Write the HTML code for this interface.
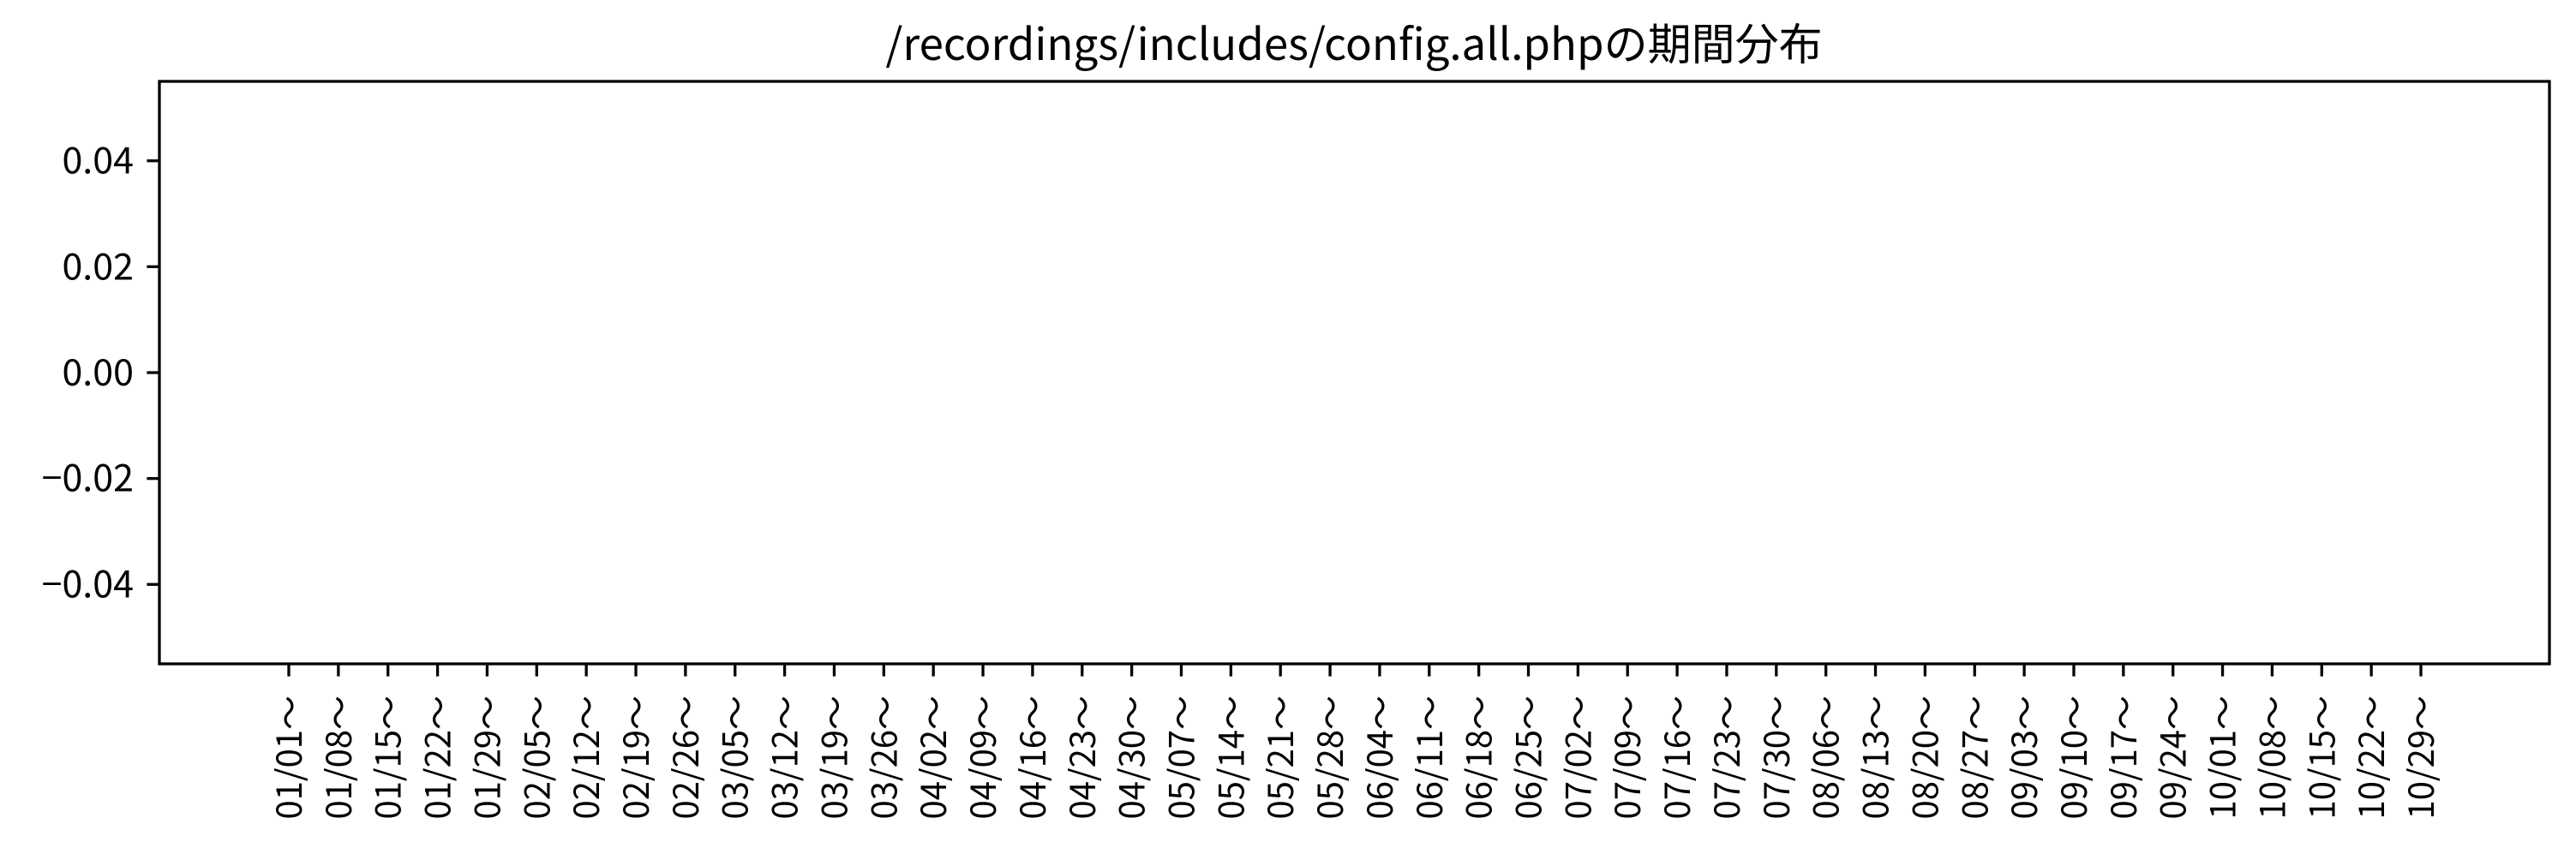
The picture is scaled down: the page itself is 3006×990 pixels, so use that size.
<!DOCTYPE html>
<html><head><meta charset="utf-8"><style>
html,body{margin:0;padding:0;background:#fff}
svg{display:block}
text{font-family:"Noto Sans CJK JP","Liberation Sans",sans-serif;fill:#000}
</style></head><body>
<svg id="chart" width="3006" height="990" viewBox="0 0 3006 990" xmlns="http://www.w3.org/2000/svg">
<rect x="0" y="0" width="3006" height="990" fill="#fff"/>
<text x="1580" y="70" text-anchor="middle" font-size="51">/recordings/includes/config.all.phpの期間分布</text>
<g id="yticks"></g>
<g id="xticks"></g>
<g id="bars"></g>
<rect x="186" y="95" width="2789" height="680" fill="none" stroke="#000" stroke-width="3.3"/>
</svg>
<script>
const categories = ["01/01～","01/08～","01/15～","01/22～","01/29～","02/05～","02/12～","02/19～","02/26～","03/05～","03/12～","03/19～","03/26～","04/02～","04/09～","04/16～","04/23～","04/30～","05/07～","05/14～","05/21～","05/28～","06/04～","06/11～","06/18～","06/25～","07/02～","07/09～","07/16～","07/23～","07/30～","08/06～","08/13～","08/20～","08/27～","09/03～","09/10～","09/17～","09/24～","10/01～","10/08～","10/15～","10/22～","10/29～"];
const values = [0,0,0,0,0,0,0,0,0,0,0,0,0,0,0,0,0,0,0,0,0,0,0,0,0,0,0,0,0,0,0,0,0,0,0,0,0,0,0,0,0,0,0,0];
const yTicks = [0.04,0.02,0.00,-0.02,-0.04];
const yTickLabels = ["0.04","0.02","0.00","\u22120.02","\u22120.04"];

const NS="http://www.w3.org/2000/svg";
const plotL=186,plotR=2975,plotT=95,plotB=775;
const yMin=-0.055,yMax=0.055;
function yScale(v){return plotB-(v-yMin)/(yMax-yMin)*(plotB-plotT);}
const xFirst=337,xLast=2825;
function xScale(i){return xFirst+i*(xLast-xFirst)/(categories.length-1);}

const yg=document.getElementById('yticks');
yTicks.forEach((v,i)=>{
  const y=yScale(v);
  const l=document.createElementNS(NS,'line');
  l.setAttribute('x1',plotL-14.6);l.setAttribute('x2',plotL);l.setAttribute('y1',y);l.setAttribute('y2',y);
  l.setAttribute('stroke','#000');l.setAttribute('stroke-width','3.3');
  
  
  yg.appendChild(l);
  const t=document.createElementNS(NS,'text');
  t.setAttribute('x',plotL-30);t.setAttribute('y',y+15);t.setAttribute('text-anchor','end');t.setAttribute('font-size','43');
  t.textContent=yTickLabels[i];
  
  
  yg.appendChild(t);
});

const xg=document.getElementById('xticks');
categories.forEach((c,i)=>{
  const x=xScale(i);
  const l=document.createElementNS(NS,'line');
  l.setAttribute('x1',x);l.setAttribute('x2',x);l.setAttribute('y1',plotB);l.setAttribute('y2',plotB+14.6);
  l.setAttribute('stroke','#000');l.setAttribute('stroke-width','3.3');
  
  
  xg.appendChild(l);
  const t=document.createElementNS(NS,'text');
  t.setAttribute('transform','translate('+(x+15)+',812) rotate(-90)');
  t.setAttribute('text-anchor','end');t.setAttribute('font-size','40');
  t.textContent=c;
  
  
  xg.appendChild(t);
});

const bg=document.getElementById('bars');
const bw=0.8*(xLast-xFirst)/(categories.length-1);
values.forEach((v,i)=>{
  const y0=yScale(0),y1=yScale(v);
  const r=document.createElementNS(NS,'rect');
  r.setAttribute('x',xScale(i)-bw/2);r.setAttribute('width',bw);
  r.setAttribute('y',Math.min(y0,y1));r.setAttribute('height',Math.abs(y1-y0));
  r.setAttribute('fill','#1f77b4');
  
  
  bg.appendChild(r);
});
</script>
</body></html>
